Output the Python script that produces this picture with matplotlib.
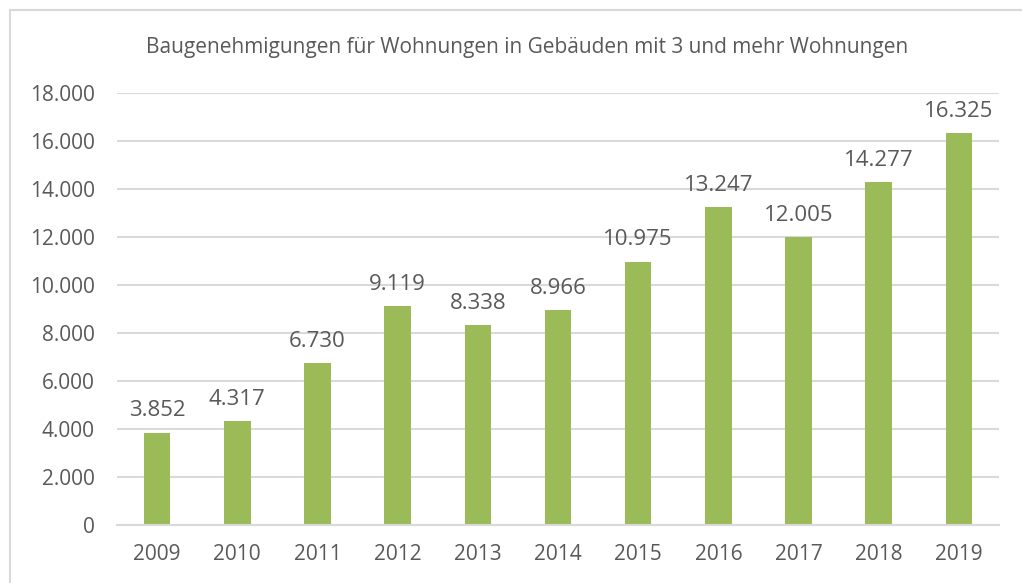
import matplotlib.pyplot as plt
from matplotlib.patches import Rectangle
from matplotlib.ticker import FuncFormatter

plt.rcParams["font.family"] = ["Open Sans", "DejaVu Sans"]

# Data
years = ["2009", "2010", "2011", "2012", "2013", "2014",
         "2015", "2016", "2017", "2018", "2019"]
permits = [3852, 4317, 6730, 9119, 8338, 8966,
           10975, 13247, 12005, 14277, 16325]
y_ticks = [0, 2000, 4000, 6000, 8000, 10000, 12000, 14000, 16000, 18000]

TEXT = "#595959"
GRID = "#d9d9d9"
BAR = "#9bbb59"


def de_fmt(v, pos=None):
    return f"{int(v):,}".replace(",", ".")


fig = plt.figure(figsize=(10.22, 5.83), dpi=100)
# light outer frame (chart border)
fig.patches.append(Rectangle((10 / 1022, -0.05), 1.1, 1 - 10 / 583 + 0.05,
                             transform=fig.transFigure, fill=False,
                             edgecolor=GRID, linewidth=1.5))

ax = fig.add_axes([117 / 1022, 1 - 525 / 583, 882 / 1022, 432 / 583])
x = range(len(years))
ax.bar(x, permits, width=0.33, color=BAR, zorder=2)

for xi, v in zip(x, permits):
    ax.annotate(de_fmt(v), (xi, v), xytext=(0, 8), textcoords="offset points",
                ha="center", va="bottom", fontsize=16, color=TEXT)

ax.set_xlim(-0.5, len(years) - 0.5)
ax.set_ylim(0, 18000)
ax.set_yticks(y_ticks)
ax.yaxis.set_major_formatter(FuncFormatter(de_fmt))
ax.set_xticks(list(x))
ax.set_xticklabels(years)
ax.tick_params(axis="both", length=0, labelsize=15, colors=TEXT)
ax.tick_params(axis="y", pad=16)
ax.tick_params(axis="x", pad=14)

ax.yaxis.grid(True, color=GRID, linewidth=1.5, zorder=0)
ax.set_axisbelow(True)
for s in ["top", "right", "left"]:
    ax.spines[s].set_visible(False)
ax.spines["bottom"].set_color(GRID)
ax.spines["bottom"].set_linewidth(1.5)

fig.text(527 / 1022, 1 - 47 / 583,
         "Baugenehmigungen für Wohnungen in Gebäuden mit 3 und mehr Wohnungen",
         ha="center", va="center", fontsize=15, color=TEXT)

fig.savefig("out.png", dpi=100)
